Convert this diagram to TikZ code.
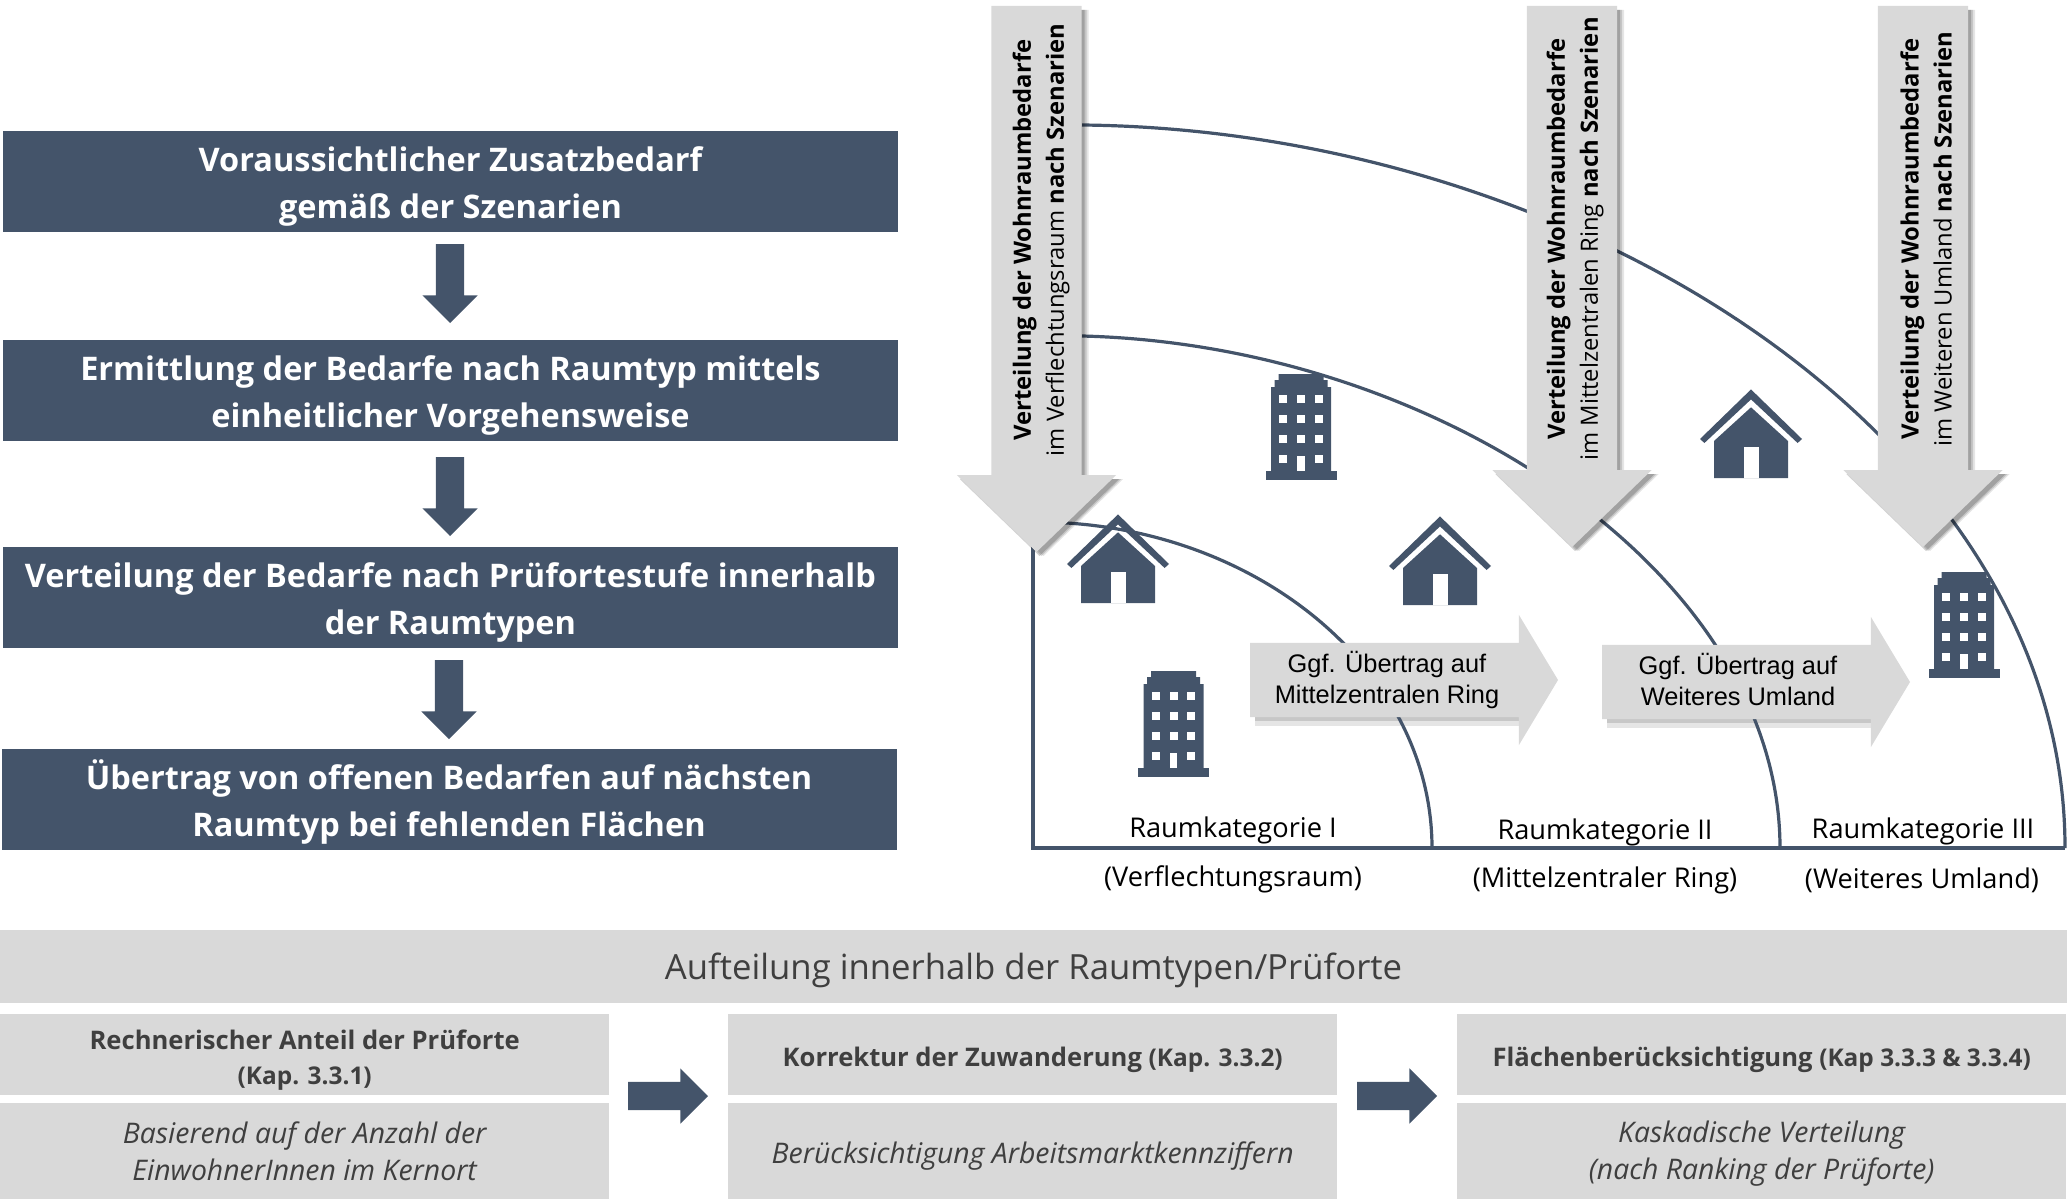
\documentclass[tikz,border=0pt]{standalone}
\usepackage{fontspec}
\setmainfont{Open Sans}
\newfontfamily\arrowfont{Liberation Sans}
\usetikzlibrary{positioning, shapes.arrows, shadows}
\definecolor{navy}{HTML}{44546A}
\definecolor{panel}{HTML}{D9D9D9}
\definecolor{ink}{HTML}{3F3F3F}

\begin{document}
\begin{tikzpicture}[
        x=1pt, y=-1pt,
        textdrop/.style={
            execute at begin node={\rule{0pt}{#1}}
        },
        stepbox/.style={
            rectangle,
            fill=navy,
            text=white,
            minimum width=895pt,
            minimum height=101pt,
            inner sep=0pt,
            outer sep=0pt,
            align=center,
            textdrop=83pt,
            font=\fontsize{32.5}{47.5}\selectfont\bfseries
        },
        stepflow/.style={
            single arrow,
            rotate=270,
            single arrow tip angle=90,
            single arrow head extend=13.5pt,
            fill=navy,
            inner sep=0pt,
            outer sep=0pt,
            text height=14pt,
            text depth=14pt,
            minimum height=79pt,
            anchor=tip
        },
        nextflow/.style={
            stepflow,
            rotate=90,
            minimum height=80pt
        },
        softshadow/.style={
            general shadow={shadow xshift=7pt, shadow yshift=-#1, fill=black, opacity=.10},
            general shadow={shadow xshift=5pt, shadow yshift=-#1, fill=black, opacity=.14},
            general shadow={shadow xshift=3pt, shadow yshift=-#1, fill=black, opacity=.18}
        },
        demand/.style={
            single arrow,
            rotate=270,
            single arrow tip angle=92,
            single arrow head extend=34.5pt,
            fill=panel,
            softshadow=4pt,
            inner sep=0pt,
            outer sep=0pt,
            text height=45pt,
            text depth=45pt,
            anchor=tip
        },
        demandtext/.style={
            rotate=90,
            align=center,
            inner sep=0pt,
            font=\fontsize{23.8}{33}\selectfont
        },
        transfer/.style={
            single arrow,
            single arrow tip angle=118,
            single arrow head extend=28pt,
            fill=panel,
            inner sep=0pt,
            outer sep=0pt,
            text height=37pt,
            text depth=37pt,
            minimum height=308pt,
            anchor=tip
        },
        transfertext/.style={
            align=center,
            inner sep=0pt,
            font=\arrowfont\fontsize{25.4}{31}\selectfont
        },
        region/.style={
            font=\fontsize{27.2}{30}\selectfont,
            inner sep=0pt
        },
        ring/.style={
            draw=navy,
            line width=3.2pt
        },
        titlebar/.style={
            rectangle,
            fill=panel,
            text=ink,
            minimum width=2067pt,
            minimum height=73pt,
            inner sep=0pt,
            textdrop=36pt,
            font=\fontsize{34.7}{40}\selectfont
        },
        headbox/.style={
            rectangle,
            fill=panel,
            text=ink,
            minimum width=609pt,
            minimum height=81pt,
            inner sep=0pt,
            align=center,
            anchor=north west,
            textdrop=30pt,
            font=\fontsize{25.6}{35.5}\selectfont\bfseries
        },
        notebox/.style={
            headbox,
            minimum height=96pt,
            textdrop=#1,
            font=\fontsize{28.4}{37}\selectfont\itshape
        },
        houseicon/.pic={
            \fill[navy] (-51,-39) -- (0,-88.6) -- (51,-39) -- (46.6,-35) -- (0,-78.6) -- (-46.6,-35) -- cycle;
            \fill[navy] (0,-70.7) -- (-37,-37) -- (-37,0) -- (37,0) -- (37,-37) -- cycle;
            \fill[white] (-7.5,0) rectangle (7.5,-31);
        },
        towericon/.pic={
            \fill[navy] (-35.5,0) rectangle (35.5,-9);
            \fill[navy] (-30,-9) -- (-30,-93) -- (-26.5,-93) -- (-26.5,-100) -- (-22.5,-100) -- (-22.5,-106)
                -- (22.5,-106) -- (22.5,-100) -- (26.5,-100) -- (26.5,-93) -- (30,-93) -- (30,-9) -- cycle;
            \foreach \wx in {-17.7,0,17.7}
                \foreach \wy in {-81,-61,-41}
                    \fill[white] (\wx-4,\wy-4) rectangle (\wx+4,\wy+4);
            \foreach \wx in {-17.7,17.7}
                \fill[white] (\wx-4,-25) rectangle (\wx+4,-17);
            \fill[white] (-3.8,-9) rectangle (3.8,-24);
        }
    ]
    \useasboundingbox (0,0) rectangle (2067,1199);

    % left column
    \node[stepbox] (surplus) at (450.5,181) {Voraussichtlicher Zusatzbedarf\\gemäß der Szenarien};
    \node[stepbox, below=108pt of surplus] (method) {Ermittlung der Bedarfe nach Raumtyp mittels\\einheitlicher Vorgehensweise};
    \node[stepbox, below=106pt of method] (spread) {Verteilung der Bedarfe nach Prüfortestufe innerhalb\\der Raumtypen};
    \node[stepbox, below=101pt of spread, xshift=-1.5pt] (carry) {Übertrag von offenen Bedarfen auf nächsten\\Raumtyp bei fehlenden Flächen};

    \node[stepflow] (flowA) at (450,323) {};
    \node[stepflow] (flowB) at (450,536) {};
    \node[stepflow] (flowC) at (449,739) {};

    % shade under the transfer arrows
    \foreach \sx/\sy in {1250/717,1602/719} {
        \fill[black, opacity=.22] (\sx+5,\sy) rectangle (\sx+269,\sy+4);
        \fill[black, opacity=.10] (\sx+5,\sy+4) rectangle (\sx+269,\sy+9);
    }

    % rings
    \coordinate (outerstart) at (1082,125);
    \coordinate (outerend) at (2065,848);
    \coordinate (middlestart) at (1082,336);
    \coordinate (middleend) at (1780,848);
    \coordinate (innerstart) at (1036,522);
    \coordinate (innerend) at (1432,848);
    \coordinate (corner) at (1033,848);

    \draw[ring] (outerstart) .. controls (1580,130) and (2065,440) .. (outerend);
    \draw[ring] (middlestart) .. controls (1440,345) and (1780,575) .. (middleend);
    \draw[ring] (innerstart) .. controls (1254,522) and (1432,669) .. (innerend);
    \draw[ring, line width=4pt] (1033,540) -- (corner) -- (outerend);

    % demand arrows
    \node[demand, minimum height=546pt] (demandA) at (1036.5,552) {};
    \node[demand, minimum height=541pt] (demandB) at (1572,547) {};
    \node[demand, minimum height=541pt] (demandC) at (1923,547) {};

    \node[demandtext] (demandAtext) at (1041,240) {\textbf{Verteilung der Wohnraumbedarfe}\\im Verflechtungsraum \textbf{nach Szenarien}};
    \node[demandtext] (demandBtext) at (1575,239) {\textbf{Verteilung der Wohnraumbedarfe}\\im Mittelzentralen Ring \textbf{nach Szenarien}};
    \node[demandtext] (demandCtext) at (1926,239) {\textbf{Verteilung der Wohnraumbedarfe}\\im Weiteren Umland \textbf{nach Szenarien}};

    % icons
    \pic (towerA) at (1301,480) {towericon};
    \pic (towerB) at (1173.5,777) {towericon};
    \pic (towerC) at (1964,678) {towericon};
    \pic (houseA) at (1118,603) {houseicon};
    \pic (houseB) at (1440,605) {houseicon};
    \pic (houseC) at (1751,478) {houseicon};

    % transfer arrows
    \node[transfer] (transferA) at (1558,680) {};
    \node[transfer] (transferB) at (1910,682) {};
    \node[transfertext] (transferAtext) at (1387,680) {Ggf. Übertrag auf\\Mittelzentralen Ring};
    \node[transfertext] (transferBtext) at (1738,679) {Ggf. Übertrag auf\\Weiteres Umland};

    \node[region] (catA) at (1233,830) {Raumkategorie I};
    \node[region] (catB) at (1605,832) {Raumkategorie II};
    \node[region] (catC) at (1923,831) {Raumkategorie III};
    \node[region] (nameA) at (1233,879) {(Verflechtungsraum)};
    \node[region] (nameB) at (1605,880) {(Mittelzentraler Ring)};
    \node[region] (nameC) at (1922,880) {(Weiteres Umland)};

    % bottom panel
    \node[titlebar] (title) at (1033.5,966) {Aufteilung innerhalb der Raumtypen/Prüforte};

    \node[headbox, textdrop=66pt] (shareHead) at (0,1014) {Rechnerischer Anteil der Prüforte\\{\fontsize{24.4}{35.5}\selectfont (Kap. 3.3.1)}};
    \node[notebox=21pt] (shareNote) at (0,1103) {Basierend auf der Anzahl der\\EinwohnerInnen im Kernort};
    \node[headbox] (moveHead) at (728,1014) {Korrektur der Zuwanderung {\fontsize{24.4}{35.5}\selectfont (Kap. 3.3.2)}};
    \node[notebox=32pt] (moveNote) at (728,1103) {Berücksichtigung Arbeitsmarktkennziffern};
    \node[headbox] (landHead) at (1457,1014) {Flächenberücksichtigung {\fontsize{24.4}{35.5}\selectfont (Kap 3.3.3 \& 3.3.4)}};
    \node[notebox=64pt] (landNote) at (1457,1103) {Kaskadische Verteilung\\(nach Ranking der Prüforte)};

    \node[nextflow] (nextA) at (708,1096) {};
    \node[nextflow] (nextB) at (1437,1096) {};
    \end{tikzpicture}
\end{document}
